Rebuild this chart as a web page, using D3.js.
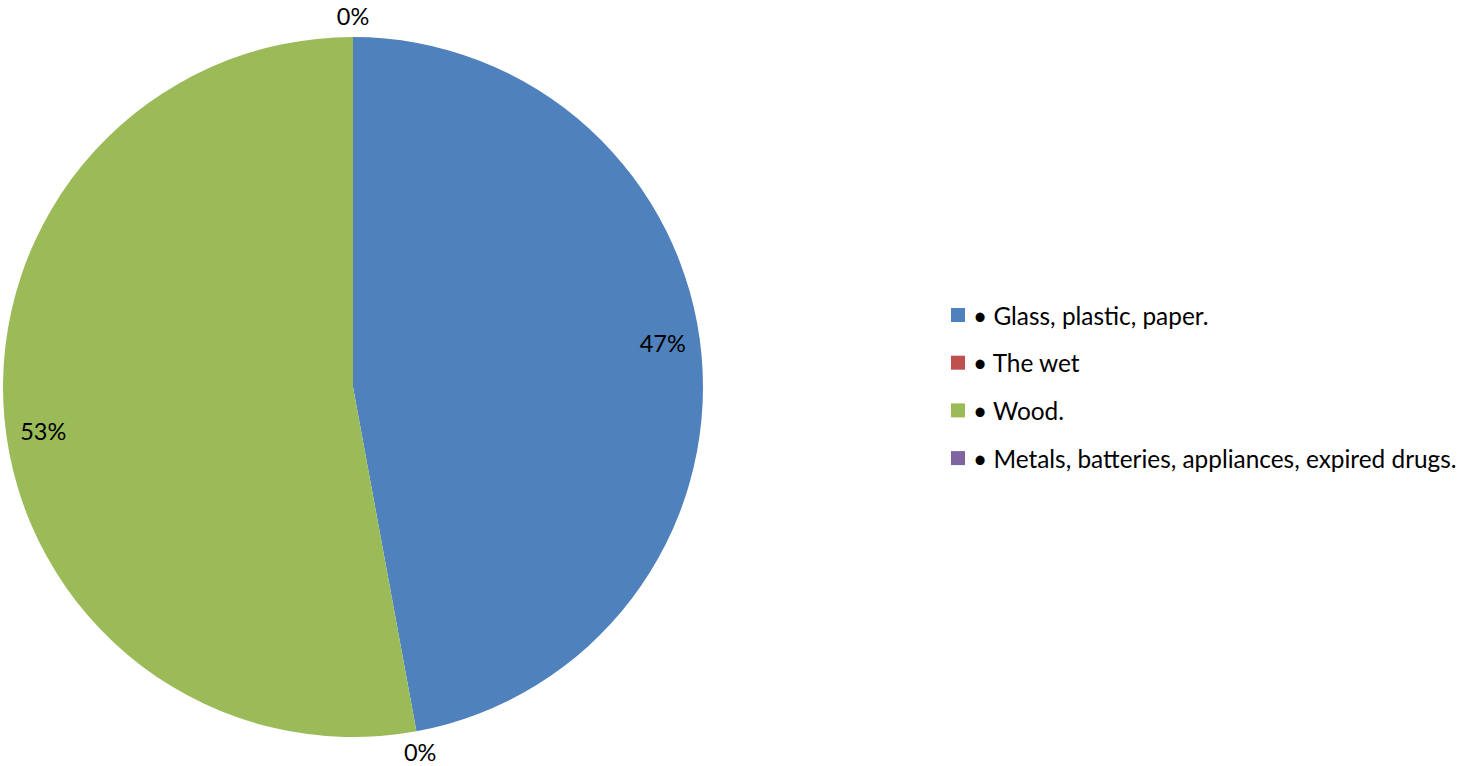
<!DOCTYPE html>
<html><head><meta charset="utf-8">
<script src="https://cdn.jsdelivr.net/npm/d3@7/dist/d3.min.js"></script>
<style>body{margin:0;background:#fff;}svg{display:block;}text{font-family:Lato,"Noto Sans",sans-serif;fill:#000;}</style>
</head><body>
<svg id="c" width="1468" height="766"></svg>
<script>
const categories = ["• Glass, plastic, paper.", "• The wet", "• Wood.", "• Metals, batteries, appliances, expired drugs."];
const values = [47.1, 0, 52.9, 0];
const colors = ["#4F81BD", "#C0504D", "#9BBB59", "#8064A2"];

const svg = d3.select("#c");
const cx = 353, cy = 387, R = 350;
const total = d3.sum(values);
const pie = d3.pie().sort(null).value(d => d.v);
const arcs = pie(values.map((v, i) => ({v, i})));
const arc = d3.arc().innerRadius(0).outerRadius(R);
const g = svg.append("g").attr("transform", `translate(${cx},${cy})`);
g.selectAll("path").data(arcs).join("path")
  .attr("d", arc).attr("fill", d => colors[d.data.i]);

const fmt = v => Math.round(v / total * 100) + "%";
g.selectAll("text.lbl").data(arcs).join("text").attr("class", "lbl")
  .attr("font-size", 23.5).attr("text-anchor", "middle").attr("dominant-baseline", "central")
  .attr("transform", d => {
    const mid = (d.startAngle + d.endAngle) / 2;
    let a, r;
    if (d.data.v / total < 0.05) { a = mid; r = R + 21; }
    else { a = mid - 0.05; r = R * 0.894; }
    return `translate(${r * Math.sin(a)},${-r * Math.cos(a)})`;
  })
  .text(d => fmt(d.data.v));

const leg = svg.append("g").attr("transform", "translate(951,315)");
const rows = leg.selectAll("g").data(categories).join("g")
  .attr("transform", (d, i) => `translate(0,${i * 47.7})`);
rows.append("rect").attr("x", 0).attr("y", -7).attr("width", 14).attr("height", 14)
  .attr("fill", (d, i) => colors[i]);
rows.append("text").attr("x", 22).attr("y", 0).attr("dominant-baseline", "central")
  .attr("font-size", 24.4).text(d => d);
</script>
</body></html>
